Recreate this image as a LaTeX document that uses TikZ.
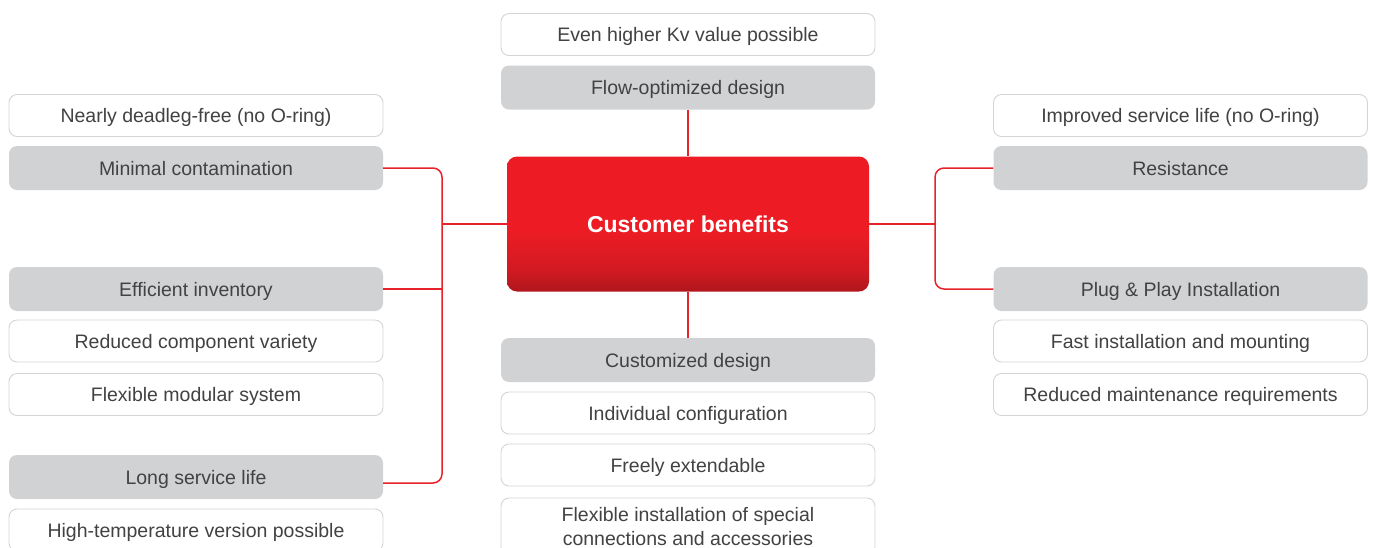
\documentclass[tikz,border=0pt]{standalone}
\usepackage{fontspec}
\setmainfont{Liberation Sans}
\definecolor{cbtop}{HTML}{ED1C24}
\definecolor{cbmid}{HTML}{D21A22}
\definecolor{cbbot}{HTML}{AF161C}
\definecolor{linkred}{HTML}{E8222A}
\definecolor{headgray}{HTML}{D1D2D4}
\definecolor{itemline}{HTML}{D4D4D4}
\definecolor{boxtext}{HTML}{424242}
\pgfdeclareverticalshading{cbshade}{100bp}{color(0bp)=(cbbot); color(25bp)=(cbbot); color(33bp)=(cbmid); color(48bp)=(cbtop); color(100bp)=(cbtop)}

\begin{document}
\begin{tikzpicture}[x=1pt,y=-1pt,
	box/.style={rectangle,rounded corners=8pt,minimum width=374pt,inner sep=2pt,
	font=\fontsize{19.5}{24}\selectfont,text=boxtext,align=center},
	itembox/.style={box,draw=itemline,line width=0.9pt,fill=white},
	head/.style={box,fill=headgray,minimum height=44pt,text height=16pt,text depth=1.5pt},
	item/.style={itembox,minimum height=42pt,text height=16pt,text depth=1.5pt},
	link/.style={draw=linkred,line width=1.5pt,rounded corners=9pt}]
\useasboundingbox (0,0) rectangle (1375,547);

\node[shading=cbshade,rounded corners=10pt,minimum width=362pt,minimum height=135pt,
	text=white,font=\fontsize{23}{26}\selectfont\bfseries] (cb) at (688,224) {Customer benefits};

\node[item] (ev) at (688,34.5) {Even higher Kv value possible};
\node[head] (fo) at (688,87.5) {Flow-optimized design};
\node[head] (cd) at (688,360) {Customized design};
\node[item] (ic) at (688,413) {Individual configuration};
\node[item] (fe) at (688,465) {Freely extendable};
\node[itembox,minimum height=57pt] (fl) at (688,526.5) {Flexible installation of special\\connections and accessories};

\node[item] (nd) at (196,115.5) {Nearly deadleg-free (no O-ring)};
\node[head] (mc) at (196,168) {Minimal contamination};
\node[head] (ei) at (196,289) {Efficient inventory};
\node[item] (rc) at (196,341) {Reduced component variety};
\node[item] (fm) at (196,394.5) {Flexible modular system};
\node[head] (ls) at (196,477) {Long service life};
\node[item] (ht) at (196,530) {High-temperature version possible};

\node[item] (is) at (1180.5,115.5) {Improved service life (no O-ring)};
\node[head] (rs) at (1180.5,168) {Resistance};
\node[head] (pp) at (1180.5,289) {Plug \& Play Installation};
\node[item] (fi) at (1180.5,341) {Fast installation and mounting};
\node[item] (rm) at (1180.5,394.5) {Reduced maintenance requirements};

\coordinate (lbus) at (442,224);
\coordinate (rbus) at (935,224);
\draw[link] (mc.east) -| ([yshift=-6pt]lbus |- ls.east) -- ([yshift=-6pt]ls.east);
\draw[link] (ei.east) -- (lbus |- ei.east);
\draw[link] (cb.west) -- (lbus);
\draw[link] (rs.west) -| (rbus |- pp.west) -- (pp.west);
\draw[link] (cb.east) -- (rbus);
\draw[link] (fo.south) -- (cb.north);
\draw[link] (cb.south) -- (cd.north);
\end{tikzpicture}
\end{document}
